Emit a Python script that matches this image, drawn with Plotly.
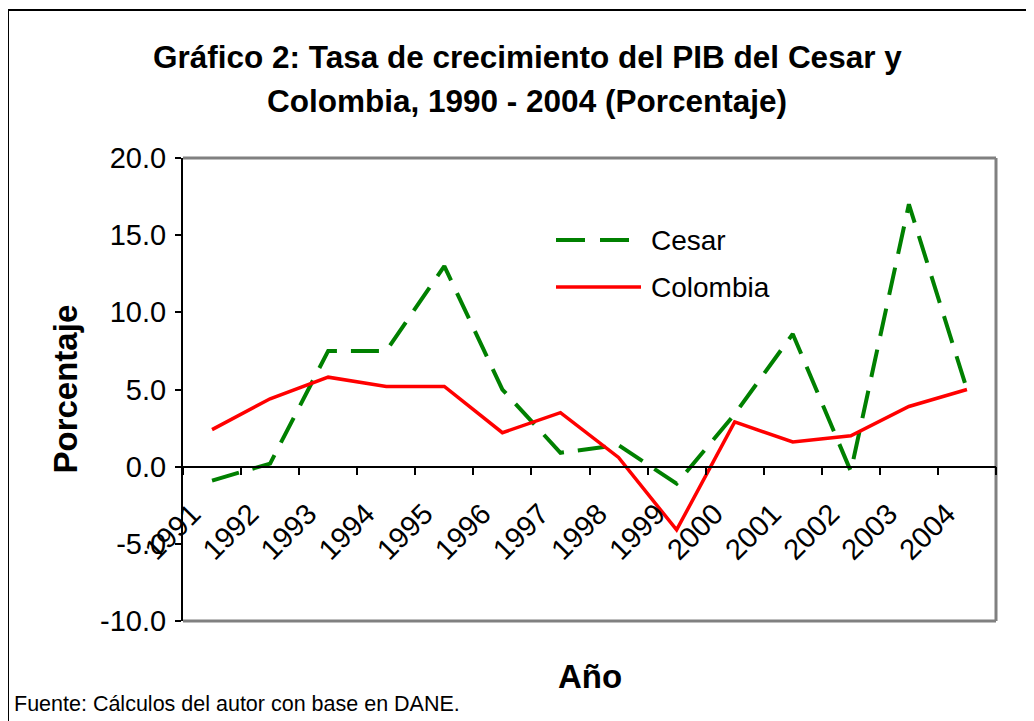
import plotly.graph_objects as go

years = ["1991", "1992", "1993", "1994", "1995", "1996", "1997",
         "1998", "1999", "2000", "2001", "2002", "2003", "2004"]
cesar = [-0.9, 0.2, 7.5, 7.5, 13.0, 5.0, 0.9, 1.4, -1.1, 3.4, 8.6, -0.3, 17.0, 5.0]
colombia = [2.4, 4.4, 5.8, 5.2, 5.2, 2.2, 3.5, 0.6, -4.1, 2.9, 1.6, 2.0, 3.9, 5.0]
y_ticks = [-10, -5, 0, 5, 10, 15, 20]
y_labels = [f"{v:.1f}" for v in y_ticks]

FONT = "Arial, 'Liberation Sans', sans-serif"
GREEN = "#008000"
RED = "#FF0000"

fig = go.Figure()
fig.add_trace(go.Scatter(x=years, y=cesar, mode="lines", name="Cesar",
                         line=dict(color=GREEN, width=4, dash="28px,14px")))
fig.add_trace(go.Scatter(x=years, y=colombia, mode="lines", name="Colombia",
                         line=dict(color=RED, width=3.5)))

# page offset (html body margin)
OFF = 8
W, H = 1034, 721
# target plot box in page pixels
PL, PR, PT, PB = 183, 996, 158, 621
L, T = PL - OFF, PT - OFF
R, B = W - (PR - OFF), H - (PB - OFF)
pw, ph = PR - PL, PB - PT

def px(xp):
    return (xp - PL) / pw

def py(yp):
    return (PB - yp) / ph

fig.update_layout(
    width=W, height=H,
    margin=dict(l=L, r=R, t=T, b=B),
    paper_bgcolor="white", plot_bgcolor="white",
    showlegend=False,
    font=dict(family=FONT, color="black"),
    xaxis=dict(
        type="category", categoryorder="array", categoryarray=years,
        range=[-0.5, len(years) - 0.5],
        anchor="free", position=(0 - y_ticks[0]) / (y_ticks[-1] - y_ticks[0]),
        showline=True, linecolor="black", linewidth=1.5,
        ticks="outside", tickson="boundaries", ticklen=8, tickcolor="black", tickwidth=1.5,
        tickangle=-45, tickfont=dict(size=29, family=FONT, color="black"),
        ticklabelstandoff=18, ticklabelshift=-20,
        showgrid=False, zeroline=False,
    ),
    yaxis=dict(
        range=[y_ticks[0], y_ticks[-1]], tickvals=y_ticks, ticktext=y_labels,
        showline=True, linecolor="black", linewidth=2,
        ticks="outside", ticklen=6, tickcolor="black", tickwidth=1.5,
        tickfont=dict(size=29, family=FONT, color="black"),
        ticklabelstandoff=3,
        showgrid=False, zeroline=False,
    ),
)

grey = dict(color="#808080", width=3)
shapes = [
    dict(type="line", xref="paper", yref="paper", x0=0, x1=1, y0=1, y1=1, line=grey, layer="below"),
    dict(type="line", xref="paper", yref="paper", x0=1, x1=1, y0=0, y1=1, line=grey, layer="below"),
    dict(type="line", xref="paper", yref="paper", x0=0, x1=1, y0=0, y1=0, line=grey, layer="below"),
    # outer chart frame
    dict(type="rect", xref="paper", yref="paper", x0=px(8), x1=px(1060), y0=py(10), y1=py(760),
         line=dict(color="black", width=2), layer="below"),
    # legend lines
    dict(type="line", xref="paper", yref="paper", x0=px(556), x1=px(629), y0=py(240), y1=py(240),
         line=dict(color=GREEN, width=4, dash="29px,15px")),
    dict(type="line", xref="paper", yref="paper", x0=px(556), x1=px(641), y0=py(287), y1=py(287),
         line=dict(color=RED, width=3.5)),
]
fig.update_layout(shapes=shapes)

ann = [
    dict(text="<b>Gráfico 2: Tasa de crecimiento del PIB del Cesar y</b>", x=px(527), y=py(57),
         font=dict(size=31.5)),
    dict(text="<b>Colombia, 1990 - 2004 (Porcentaje)</b>", x=px(527), y=py(101),
         font=dict(size=31.5)),
    dict(text="<b>Porcentaje</b>", x=px(65), y=0.5, textangle=-90, font=dict(size=33)),
    dict(text="<b>Año</b>", x=0.5, y=py(676), font=dict(size=33)),
    dict(text="Fuente: Cálculos del autor con base en DANE.", x=px(12), y=py(704),
         xanchor="left", font=dict(size=21.5)),
    dict(text="Cesar", x=px(649), y=py(240), xanchor="left", font=dict(size=28)),
    dict(text="Colombia", x=px(649), y=py(287), xanchor="left", font=dict(size=28)),
]
for a in ann:
    a.setdefault("xanchor", "center")
    a.update(xref="paper", yref="paper", yanchor="middle", showarrow=False)
    a["font"] = dict(family=FONT, color="black", **a["font"])
fig.update_layout(annotations=ann)

fig.write_html("out.html")
